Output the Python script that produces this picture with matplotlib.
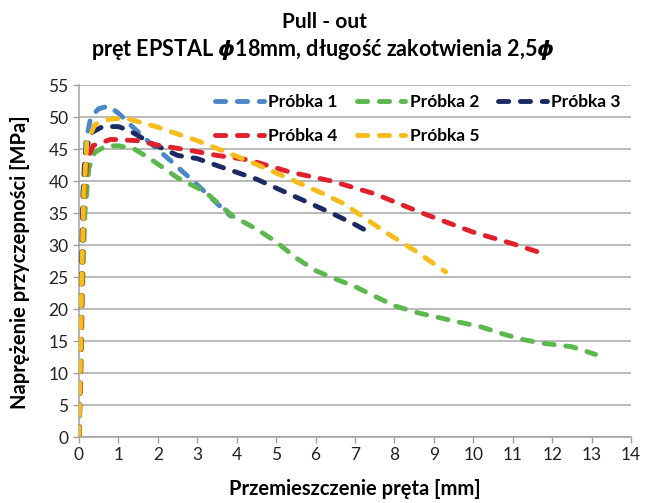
import matplotlib
matplotlib.use("Agg")
import matplotlib.pyplot as plt

plt.rcParams['font.family'] = ['Lato', 'DejaVu Sans']

# Data
x1 = [0, 0.04, 0.08, 0.12, 0.17, 0.3, 0.5, 0.75, 1.0, 1.3, 1.7, 2.3, 3.07, 3.5, 3.85]
y1 = [0, 10, 25, 38, 46, 50, 51.3, 51.7, 50.6, 48.8, 46.5, 43.3, 39, 36.5, 34.5]

x2 = [0, 0.05, 0.1, 0.15, 0.25, 0.4, 0.7, 1.0, 1.4, 1.8, 2.5, 3.2, 3.9, 4.5, 5.0, 5.5,
      6.0, 6.5, 7.0, 7.4, 8.0, 8.6, 9.6, 10.2, 10.7, 11.2, 11.7, 12.5, 13.1]
y2 = [0, 10, 25, 35, 42, 44.5, 45.5, 45.5, 45, 43.5, 40.5, 38.3, 34.5, 32.5, 30.5, 28,
      26, 24.7, 23.5, 22.3, 20.5, 19.4, 18, 17.2, 16.2, 15.3, 14.7, 14.1, 12.9]

x3 = [0, 0.03, 0.06, 0.1, 0.15, 0.3, 0.6, 1.0, 1.3, 1.8, 2.5, 3.0, 3.6, 4.5, 5.5, 6.4, 7.0, 7.45]
y3 = [0, 10, 25, 38, 44, 47.5, 48.5, 48.5, 47.8, 46, 44, 43.5, 42.2, 40.3, 37.5, 35, 33.2, 31.7]

x4 = [0, 0.04, 0.08, 0.12, 0.2, 0.35, 0.8, 1.5, 2.0, 2.8, 3.5, 4.3, 5.35, 6.4, 7.5, 8.7, 10, 11, 11.85]
y4 = [0, 10, 25, 37, 43, 45.5, 46.5, 46.3, 45.6, 44.8, 44, 43.3, 41.4, 40, 38, 35, 32, 30.2, 28.5]

x5 = [0, 0.03, 0.07, 0.12, 0.2, 0.4, 0.8, 1.2, 2.0, 3.0, 3.7, 4.5, 5.1, 6.2, 6.7, 7.3, 7.7, 8.5, 9.3]
y5 = [0, 10, 25, 38, 46, 48.8, 49.7, 49.8, 48.4, 46.3, 44.6, 42.6, 41, 38, 36.5, 34, 32.3, 29.2, 25.8]

labels = ['Próbka 1', 'Próbka 2', 'Próbka 3', 'Próbka 4', 'Próbka 5']
colors = ['#4A86C8', '#5BB84D', '#1B2A63', '#E0202A', '#F7BC1A']
x_ticks = list(range(0, 15))
y_ticks = list(range(0, 60, 5))

fig = plt.figure(figsize=(6.49, 5.03), dpi=100)
ax = fig.add_axes([79/649, 1-437/503, (631-79)/649, (437-85)/503])

series = [(x1, y1), (x2, y2), (x3, y3), (x4, y4), (x5, y5)]
handles = []
for (xs, ys), lab, c in zip(series, labels, colors):
    h, = ax.plot(xs, ys, color=c, lw=3.5, linestyle=(0, (2.1, 2.4)),
                 dash_capstyle='round', label=lab, zorder=3)
    handles.append(h)

ax.set_xlim(0, 14)
ax.set_ylim(0, 55)
ax.set_xticks(x_ticks)
ax.set_yticks(y_ticks)
ax.tick_params(axis='both', labelsize=12.5, direction='out', length=4, color='#A0A0A0',
               width=1, labelcolor='#222222')
ax.grid(axis='y', color='#A6A6A6', lw=1.1)
ax.set_axisbelow(True)
for s in ['top', 'right']:
    ax.spines[s].set_visible(False)
for s in ['left', 'bottom']:
    ax.spines[s].set_color('#A0A0A0')
    ax.spines[s].set_linewidth(1.1)

order = [0, 3, 1, 4, 2]
leg = ax.legend([handles[i] for i in order], [labels[i] for i in order], ncol=3,
                loc='upper right', bbox_to_anchor=(1.0, 1.005), frameon=False,
                prop={'weight': 'bold', 'size': 12.5}, handlelength=2.8,
                handletextpad=0.25, columnspacing=1.1, labelspacing=1.05,
                borderaxespad=0.2)

fig.text(0.5, 1-22/503, 'Pull - out', ha='center', va='center', fontsize=15, fontweight='bold')
fig.text(0.497, 1-50/503, r'pręt EPSTAL $\boldsymbol{\phi}$18mm, długość zakotwienia 2,5$\boldsymbol{\phi}$',
         ha='center', va='center', fontsize=15.5, fontweight='bold')
fig.text(355/649, 1-489/503, 'Przemieszczenie pręta [mm]', ha='center', va='center',
         fontsize=14.5, fontweight='bold')
fig.text(20/649, 1-262/503, 'Naprężenie przyczepności [MPa]', ha='center', va='center',
         fontsize=14.5, fontweight='bold', rotation=90)

fig.savefig('out.png', dpi=100)
